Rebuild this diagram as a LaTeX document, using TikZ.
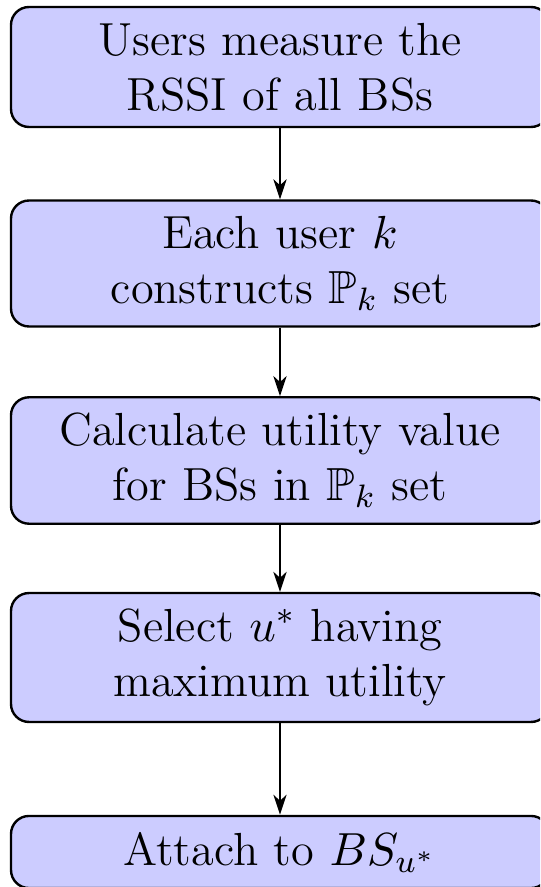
\RequirePackage{fix-cm}
\documentclass[tikz,border=0pt]{standalone}
\usepackage{amssymb}
\usetikzlibrary{arrows.meta}
\tikzset{
  stepbox/.style={draw=black, fill=blue!20, line width=0.6pt,
    rounded corners=4.5pt, text width=126pt, align=center,
    inner xsep=4.25pt, inner ysep=4pt, font=\fontsize{11.6}{13.7}\selectfont},
  flow/.style={line width=0.6pt,
    -{Stealth[length=5pt,width=3.3pt,inset=1.5pt]}}
}
\begin{document}
\begin{tikzpicture}[x=0.25pt,y=-0.25pt]
  \clip (0,0) rectangle (540,887);
  % processing steps, top to bottom
  \node[stepbox] (s1) at (280,67)    {Users measure the\\RSSI of all BSs};
  \node[stepbox] (s2) at (280,263.5) {Each user $k$\\constructs $\mathbb{P}_k$ set};
  \node[stepbox] (s3) at (280,460.5) {Calculate utility value\\for BSs in $\mathbb{P}_k$ set};
  \node[stepbox] (s4) at (280,657.5) {Select $u^*$ having\\maximum utility};
  \node[stepbox] (s5) at (280,852)   {Attach to $BS_{u^*}$};
  % connectors
  \draw[flow] (s1) -- (s2);
  \draw[flow] (s2) -- (s3);
  \draw[flow] (s3) -- (s4);
  \draw[flow] (s4) -- (s5);
\end{tikzpicture}
\end{document}
